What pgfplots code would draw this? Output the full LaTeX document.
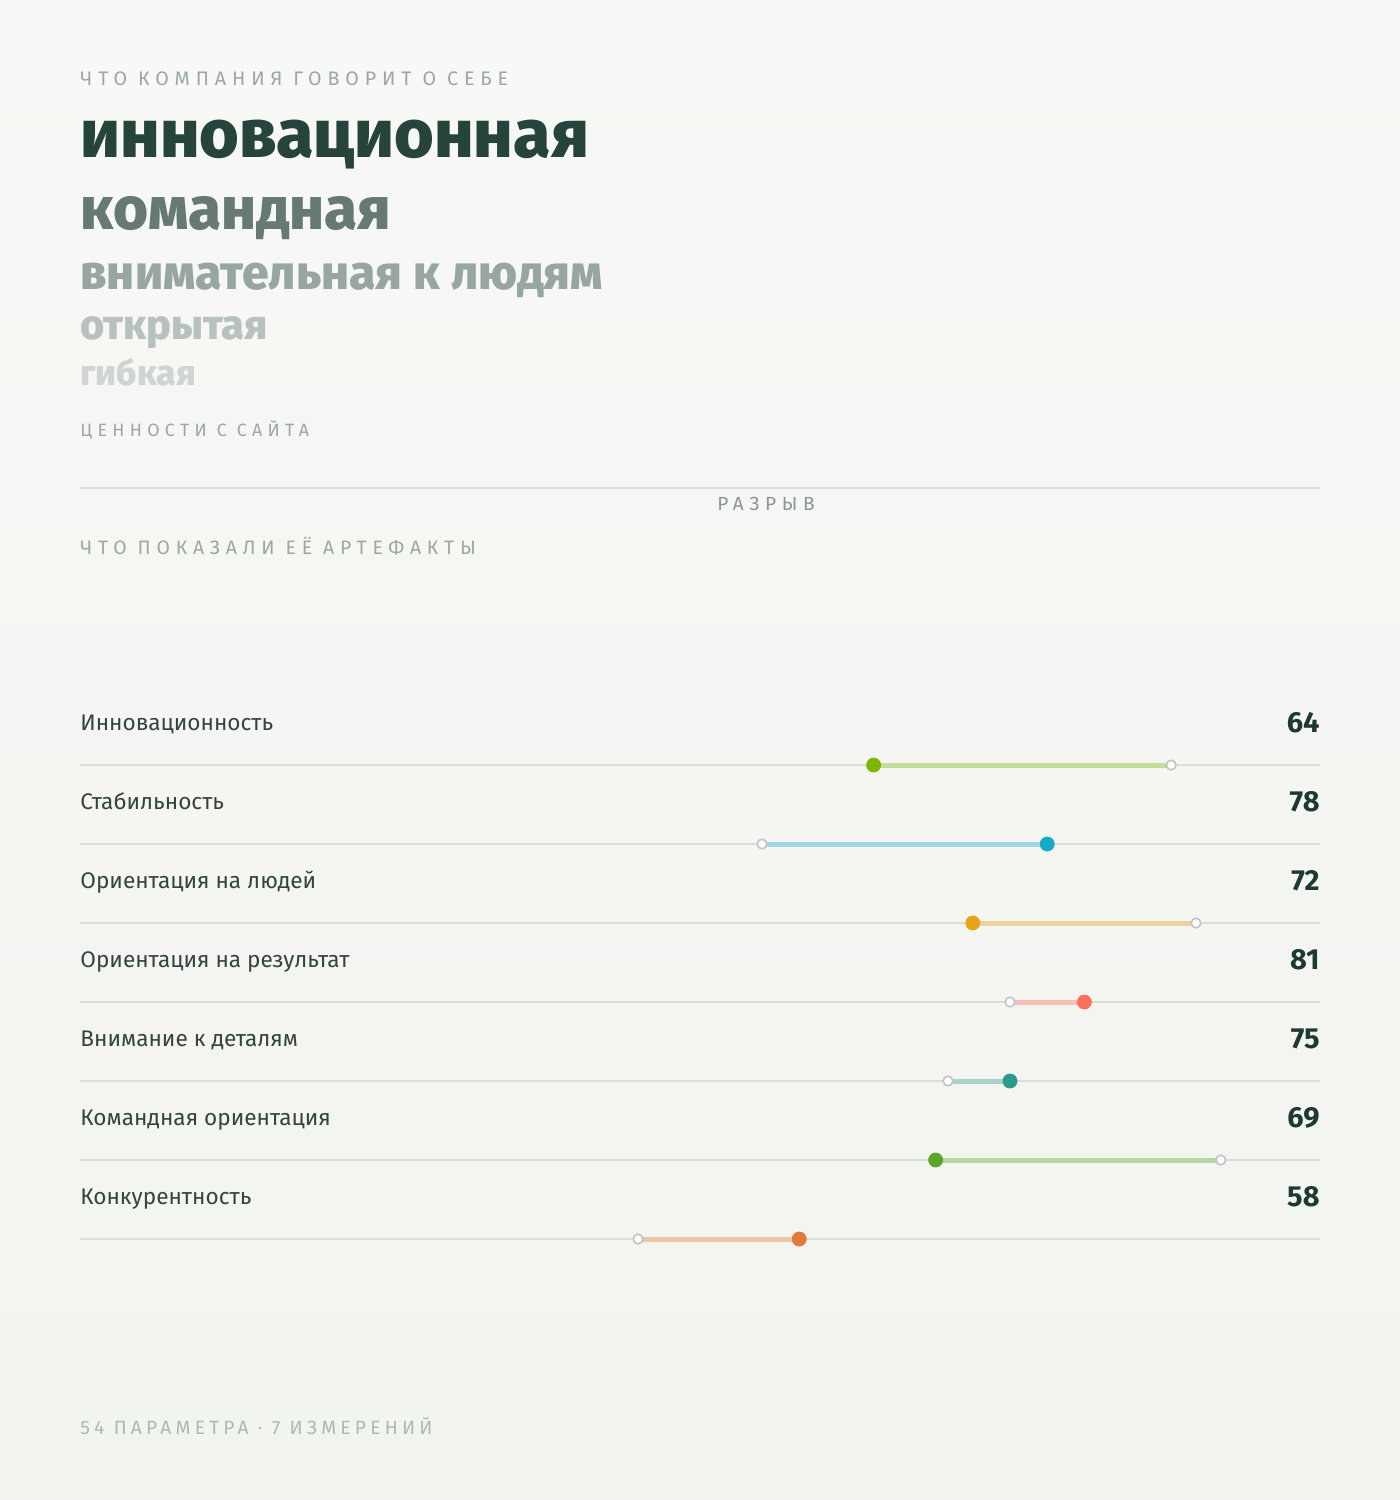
\documentclass[border=0pt]{standalone}
\usepackage{fontspec}
\setmainfont{Fira Sans}
\newfontfamily\xb{Fira Sans ExtraBold}
\newfontfamily\capsf{Fira Sans}[LetterSpace=30]
\newfontfamily\capsfoot{Fira Sans}[LetterSpace=22]
\usepackage{pgfplots}
\pgfplotsset{compat=1.18}
\definecolor{bgtop}{HTML}{F8F8F6}
\definecolor{bgbot}{HTML}{F2F4EF}
\definecolor{t1}{HTML}{27443C}
\definecolor{t2}{HTML}{667A73}
\definecolor{t3}{HTML}{98A6A1}
\definecolor{t4}{HTML}{B7C1BD}
\definecolor{t5}{HTML}{CFD5D2}
\definecolor{capc}{HTML}{98A8A3}
\definecolor{labc}{HTML}{34443F}
\definecolor{valc}{HTML}{1E3833}
\definecolor{gridc}{HTML}{D9DEDA}
\definecolor{hollowc}{HTML}{BFC5C2}
\definecolor{c1}{HTML}{7AB800}\definecolor{l1}{HTML}{C4DD98}
\definecolor{c2}{HTML}{17A9C9}\definecolor{l2}{HTML}{9DD8E4}
\definecolor{c3}{HTML}{E8A317}\definecolor{l3}{HTML}{EFD39A}
\definecolor{c4}{HTML}{FF6F5E}\definecolor{l4}{HTML}{F6BFB6}
\definecolor{c5}{HTML}{2A9D8A}\definecolor{l5}{HTML}{A8D3CA}
\definecolor{c6}{HTML}{5AA52A}\definecolor{l6}{HTML}{B6D6A1}
\definecolor{c7}{HTML}{E07B39}\definecolor{l7}{HTML}{ECC4A6}
\pgfplotsset{
  gridline/.style={gridc, line width=1pt, forget plot},
  hollow/.style={only marks, mark=*, mark size=2.4pt, mark options={fill=white, draw=hollowc, line width=0.8pt}},
  filled/.style={only marks, mark=*, mark size=3.5pt, mark options={fill=#1, draw=#1}},
}
\begin{document}
\begin{tikzpicture}[x=0.5pt,y=-0.5pt]
\shade[top color=bgtop,bottom color=bgbot] (0,0) rectangle (1400,1500);
% header
\node[anchor=base west, inner sep=0, text=capc, font=\capsf\fontsize{9.8pt}{11pt}\selectfont] at (80,85) {ЧТО КОМПАНИЯ ГОВОРИТ О СЕБЕ};
\node[anchor=base west, inner sep=0, text=t1, font=\xb\fontsize{34pt}{36pt}\selectfont] at (80,157) {инновационная};
\node[anchor=base west, inner sep=0, text=t2, font=\xb\fontsize{30pt}{32pt}\selectfont] at (80,229) {командная};
\node[anchor=base west, inner sep=0, text=t3, font=\xb\fontsize{24pt}{26pt}\selectfont] at (80,289) {внимательная к людям};
\node[anchor=base west, inner sep=0, text=t4, font=\xb\fontsize{20.8pt}{22pt}\selectfont] at (80,339) {открытая};
\node[anchor=base west, inner sep=0, text=t5, font=\xb\fontsize{17.8pt}{19pt}\selectfont] at (80,385) {гибкая};
\node[anchor=base west, inner sep=0, text=capc, font=\capsf\fontsize{8.9pt}{11pt}\selectfont] at (80,436) {ЦЕННОСТИ С САЙТА};
\draw[gridc, line width=0.6pt] (80,488) -- (1320,488);
\node[anchor=base, inner sep=0, text=capc!90!black, font=\capsf\fontsize{9.5pt}{11pt}\selectfont] at (766,510) {РАЗРЫВ};
\node[anchor=base west, inner sep=0, text=capc, font=\capsf\fontsize{9.7pt}{11pt}\selectfont] at (80,554) {ЧТО ПОКАЗАЛИ ЕЁ АРТЕФАКТЫ};
% row labels and values
\foreach \lab/\val [count=\i from 0] in {Инновационность/64, Стабильность/78, Ориентация на людей/72, Ориентация на результат/81, Внимание к деталям/75, Командная ориентация/69, Конкурентность/58}{
  \node[anchor=base west, inner sep=0, text=labc, font=\fontsize{11.3pt}{13pt}\selectfont] at (80,730+79*\i) {\lab};
  \node[anchor=base east, inner sep=0, text=valc, font=\bfseries\fontsize{14.5pt}{16pt}\selectfont] at (1320,732+79*\i) {\val};
}
\begin{axis}[at={(40pt,-619.5pt)}, anchor=south west, width=620pt, height=237pt, scale only axis,
  xmin=0, xmax=100, ymin=0, ymax=6, y dir=reverse, axis lines=none, clip=false]
\addplot[gridline] coordinates {(0,0) (100,0)};
\addplot[gridline] coordinates {(0,1) (100,1)};
\addplot[gridline] coordinates {(0,2) (100,2)};
\addplot[gridline] coordinates {(0,3) (100,3)};
\addplot[gridline] coordinates {(0,4) (100,4)};
\addplot[gridline] coordinates {(0,5) (100,5)};
\addplot[gridline] coordinates {(0,6) (100,6)};
% segments
\addplot[l1, line width=2.5pt] coordinates {(64,0) (88,0)};
\addplot[l2, line width=2.5pt] coordinates {(55,1) (78,1)};
\addplot[l3, line width=2.5pt] coordinates {(72,2) (90,2)};
\addplot[l4, line width=2.5pt] coordinates {(75,3) (81,3)};
\addplot[l5, line width=2.5pt] coordinates {(70,4) (75,4)};
\addplot[l6, line width=2.5pt] coordinates {(69,5) (92,5)};
\addplot[l7, line width=2.5pt] coordinates {(45,6) (58,6)};
% claimed (hollow)
\addplot[hollow] coordinates {(88,0) (55,1) (90,2) (75,3) (70,4) (92,5) (45,6)};
% actual (filled)
\addplot[filled=c1] coordinates {(64,0)};
\addplot[filled=c2] coordinates {(78,1)};
\addplot[filled=c3] coordinates {(72,2)};
\addplot[filled=c4] coordinates {(81,3)};
\addplot[filled=c5] coordinates {(75,4)};
\addplot[filled=c6] coordinates {(69,5)};
\addplot[filled=c7] coordinates {(58,6)};
\end{axis}
\node[anchor=base west, inner sep=0, text=capc!80!white, font=\capsfoot\fontsize{9.6pt}{12pt}\selectfont] at (80,1434) {54 ПАРАМЕТРА · 7 ИЗМЕРЕНИЙ};
\end{tikzpicture}
\end{document}
